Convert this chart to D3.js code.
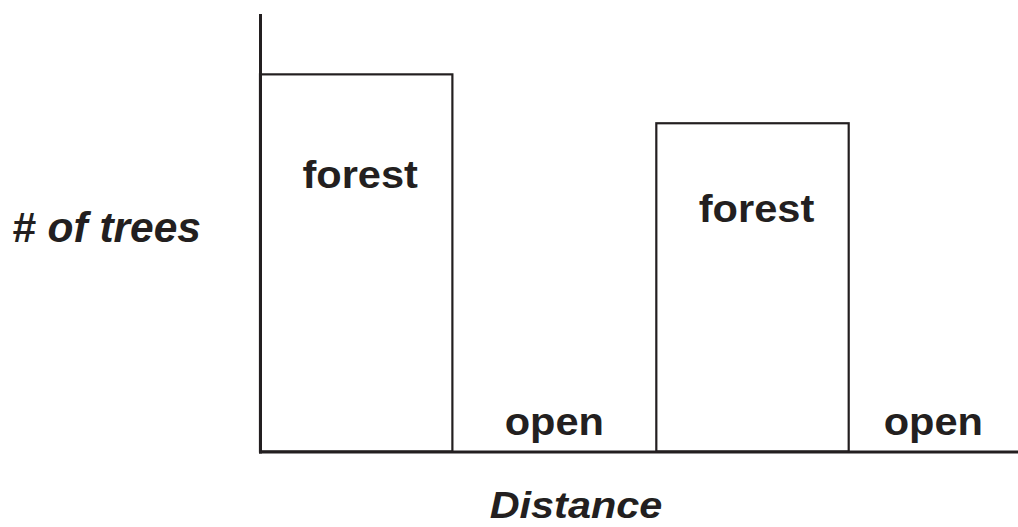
<!DOCTYPE html>
<html>
<head>
<meta charset="utf-8">
<script src="https://cdn.jsdelivr.net/npm/d3@7"></script>
<style>
  body { margin: 0; background: #fff; }
  svg { display: block; }
  text { font-family: "Liberation Sans", Arial, Helvetica, sans-serif; font-weight: bold; fill: #231f20; }
</style>
</head>
<body>
<script>
// habitat along the transect
var categories = ["forest", "open", "forest", "open"];
// distance where each patch starts/ends (last entry = end of last patch)
var distanceStops = [0, 50, 103, 153, 197];
// number of trees in each patch
var treeCounts = [86.4, 0, 75.2, 0];

var xTitle = "Distance";
var yTitle = "# of trees";

var width = 1018, height = 527;
var ink = "#231f20";

var svg = d3.select("body").append("svg")
    .attr("width", width)
    .attr("height", height);

var x = d3.scaleLinear()
    .domain([0, d3.max(distanceStops)])
    .range([260, 1018]);

var y = d3.scaleLinear()
    .domain([0, 100])
    .range([451.5, 15]);

var patches = categories.map(function (c, i) {
    return { name: c, x0: distanceStops[i], x1: distanceStops[i + 1], n: treeCounts[i] };
});

// bars (open patches have no trees so only the label shows)
svg.selectAll("rect.bar")
    .data(patches.filter(function (d) { return d.n > 0; }))
    .enter().append("rect")
    .attr("class", "bar")
    .attr("x", function (d) { return x(d.x0); })
    .attr("width", function (d) { return x(d.x1) - x(d.x0); })
    .attr("y", function (d) { return y(d.n); })
    .attr("height", function (d) { return y(0) - y(d.n); })
    .attr("fill", "#fff")
    .attr("stroke", ink)
    .attr("stroke-width", 2.2);

// axes, just the lines
svg.append("g")
    .attr("transform", "translate(" + x(0) + ",0)")
    .call(d3.axisLeft(y).ticks(0).tickSizeOuter(0));
svg.append("g")
    .attr("transform", "translate(0," + y(0) + ")")
    .call(d3.axisBottom(x).ticks(0).tickSizeOuter(0));
svg.selectAll(".domain")
    .attr("stroke", ink)
    .attr("stroke-width", 3)
    .attr("stroke-linecap", "square");

// labels inside/above each patch
svg.selectAll("text.lab")
    .data(patches)
    .enter().append("text")
    .attr("class", "lab")
    .attr("text-anchor", "middle")
    .attr("font-size", 38.5)
    .attr("transform", function (d) {
        var cx = (x(d.x0) + x(d.x1)) / 2;
        var ty = d.n > 0 ? y(d.n * 0.7) : y(0) - 17;
        if (d.n > 0) cx += 4;
        return "translate(" + cx + "," + ty + ") scale(1.08,1)";
    })
    .text(function (d) { return d.name; });

// axis titles
svg.append("text")
    .attr("text-anchor", "middle")
    .attr("font-size", 37)
    .attr("font-style", "italic")
    .attr("transform", "translate(576,518) scale(1.12,1)")
    .text(xTitle);

svg.append("text")
    .attr("text-anchor", "middle")
    .attr("font-size", 42.5)
    .attr("font-style", "italic")
    .attr("transform", "translate(106.5,242)")
    .text(yTitle);
</script>
</body>
</html>
